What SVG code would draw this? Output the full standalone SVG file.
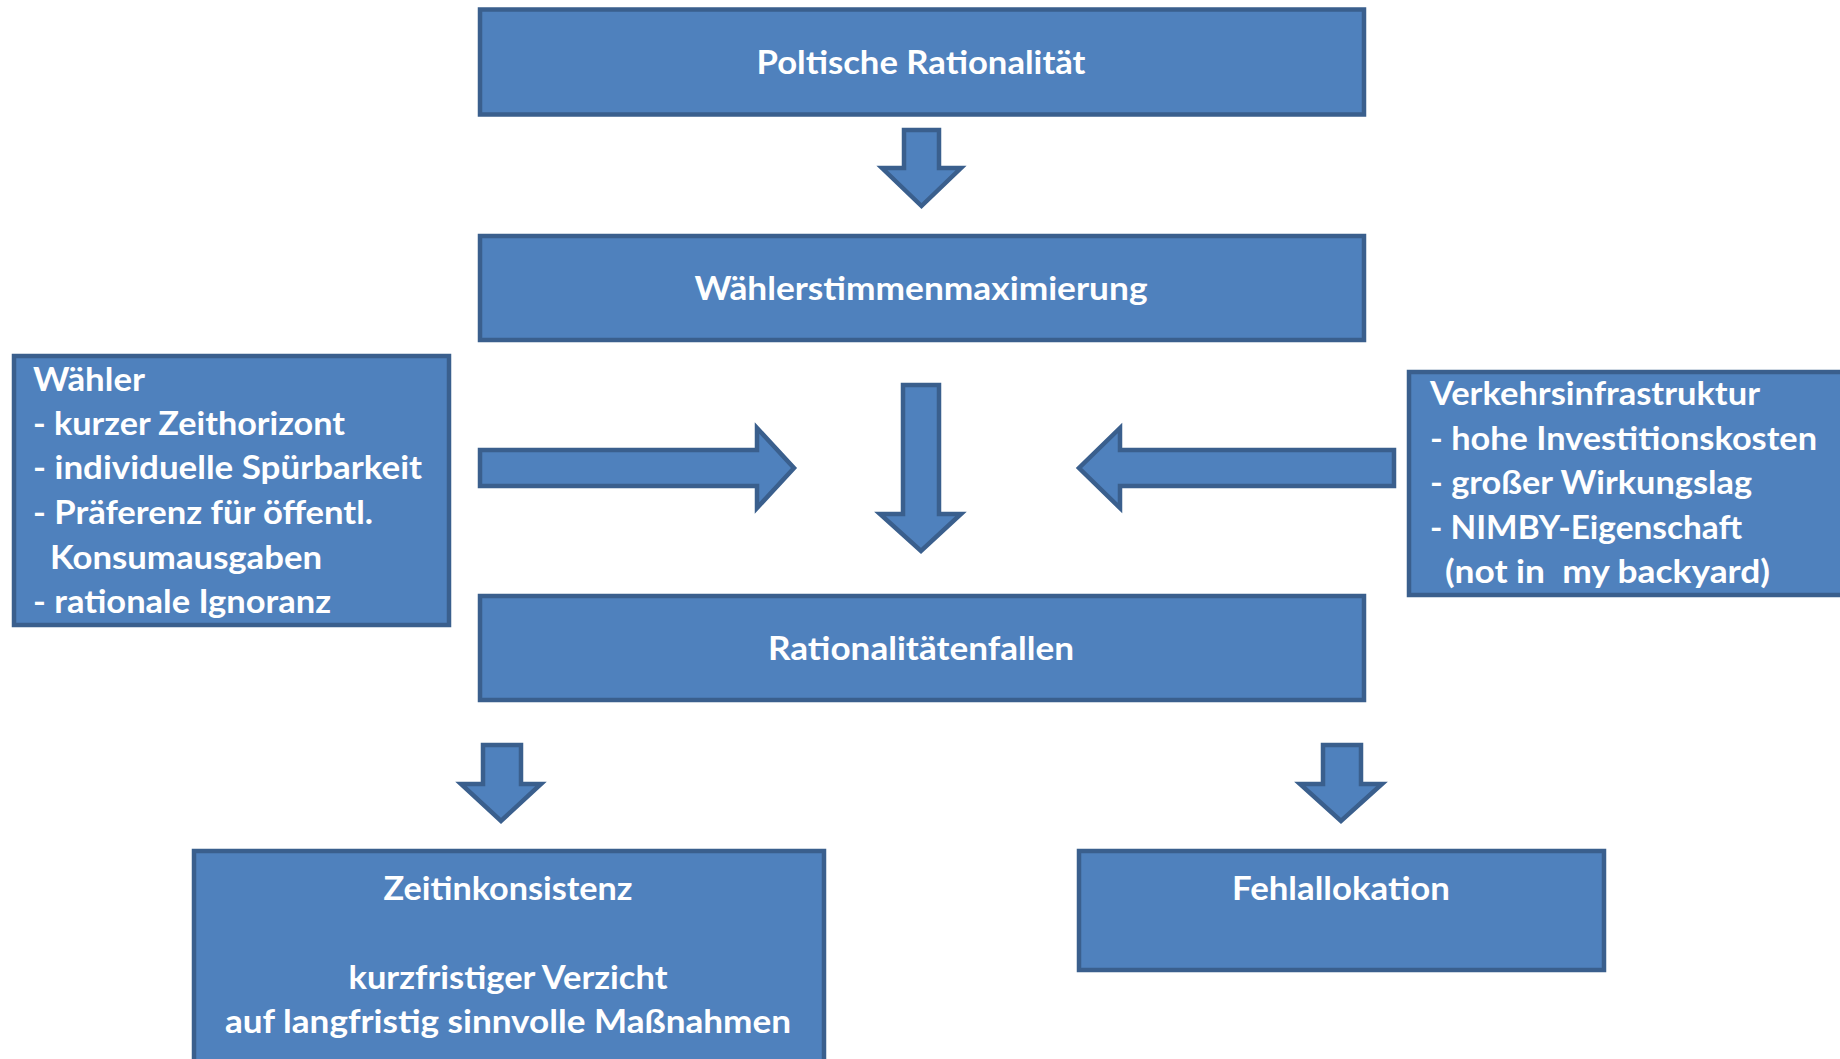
<svg xmlns="http://www.w3.org/2000/svg" width="1840" height="1059" viewBox="0 0 1840 1059">
<style>
.box{fill:#4F81BD;stroke:#3A5F8D;stroke-width:4.5}
.arr{fill:#4F81BD;stroke:#3A5F8D;stroke-width:4.5;stroke-linejoin:miter}
text{font-family:Lato,"Open Sans","Liberation Sans",sans-serif;font-weight:bold;font-size:33px;fill:#FFFFFF}
.c{text-anchor:middle}
</style>
<rect width="1840" height="1059" fill="#FFFFFF"/>
<g id="connectors">
<path class="arr" d="M904,130 L939,130 L939,168 L961,168 L921.5,206 L882,168 L904,168 Z"/>
<path class="arr" d="M903,385 L939,385 L939,514 L961,514 L921,551 L880,514 L903,514 Z"/>
<path class="arr" d="M480,450 L757,450 L757,428 L794,468 L757,508 L757,486 L480,486 Z"/>
<path class="arr" d="M1394,450 L1120,450 L1120,428 L1079,468 L1120,508 L1120,486 L1394,486 Z"/>
<path class="arr" d="M483,745 L521,745 L521,784 L541,784 L501,821 L461,784 L483,784 Z"/>
<path class="arr" d="M1323,745 L1361,745 L1361,784 L1382,784 L1341,821 L1300,784 L1323,784 Z"/>
</g>
<g id="node-poltische">
<rect class="box" x="480" y="9.5" width="884" height="105"/>
<text class="c" x="921" y="74" textLength="329" lengthAdjust="spacingAndGlyphs">Poltische Rationalität</text>
</g>
<g id="node-waehlerstimmen">
<rect class="box" x="480" y="236" width="884" height="104"/>
<text class="c" x="921" y="300" textLength="453" lengthAdjust="spacingAndGlyphs">Wählerstimmenmaximierung</text>
</g>
<g id="node-waehler">
<rect class="box" x="14" y="356" width="435" height="269"/>
<text x="33" y="391" textLength="112" lengthAdjust="spacingAndGlyphs">Wähler</text>
<text x="33" y="435" textLength="312" lengthAdjust="spacingAndGlyphs">- kurzer Zeithorizont</text>
<text x="33" y="479" textLength="389" lengthAdjust="spacingAndGlyphs">- individuelle Spürbarkeit</text>
<text x="33" y="524" textLength="340" lengthAdjust="spacingAndGlyphs">- Präferenz für öffentl.</text>
<text x="50" y="569" textLength="272" lengthAdjust="spacingAndGlyphs">Konsumausgaben</text>
<text x="33" y="613" textLength="298" lengthAdjust="spacingAndGlyphs">- rationale Ignoranz</text>
</g>
<g id="node-verkehr">
<rect class="box" x="1409" y="372" width="460" height="223"/>
<text x="1430" y="405" textLength="330" lengthAdjust="spacingAndGlyphs">Verkehrsinfrastruktur</text>
<text x="1430" y="450" textLength="387" lengthAdjust="spacingAndGlyphs">- hohe Investitionskosten</text>
<text x="1430" y="494" textLength="322" lengthAdjust="spacingAndGlyphs">- großer Wirkungslag</text>
<text x="1430" y="539" textLength="312" lengthAdjust="spacingAndGlyphs">- NIMBY-Eigenschaft</text>
<text x="1445" y="583" textLength="325" lengthAdjust="spacingAndGlyphs" xml:space="preserve">(not in  my backyard)</text>
</g>
<g id="node-rationalitaetenfallen">
<rect class="box" x="480" y="596" width="884" height="104"/>
<text class="c" x="921" y="660" textLength="306" lengthAdjust="spacingAndGlyphs">Rationalitätenfallen</text>
</g>
<g id="node-zeitinkonsistenz">
<rect class="box" x="194" y="851" width="630" height="240"/>
<text class="c" x="508" y="900" textLength="249" lengthAdjust="spacingAndGlyphs">Zeitinkonsistenz</text>
<text class="c" x="508" y="989" textLength="319" lengthAdjust="spacingAndGlyphs">kurzfristiger Verzicht</text>
<text class="c" x="508" y="1033" textLength="566" lengthAdjust="spacingAndGlyphs">auf langfristig sinnvolle Maßnahmen</text>
</g>
<g id="node-fehlallokation">
<rect class="box" x="1079" y="851" width="525" height="119"/>
<text class="c" x="1341" y="900" textLength="218" lengthAdjust="spacingAndGlyphs">Fehlallokation</text>
</g>
</svg>
